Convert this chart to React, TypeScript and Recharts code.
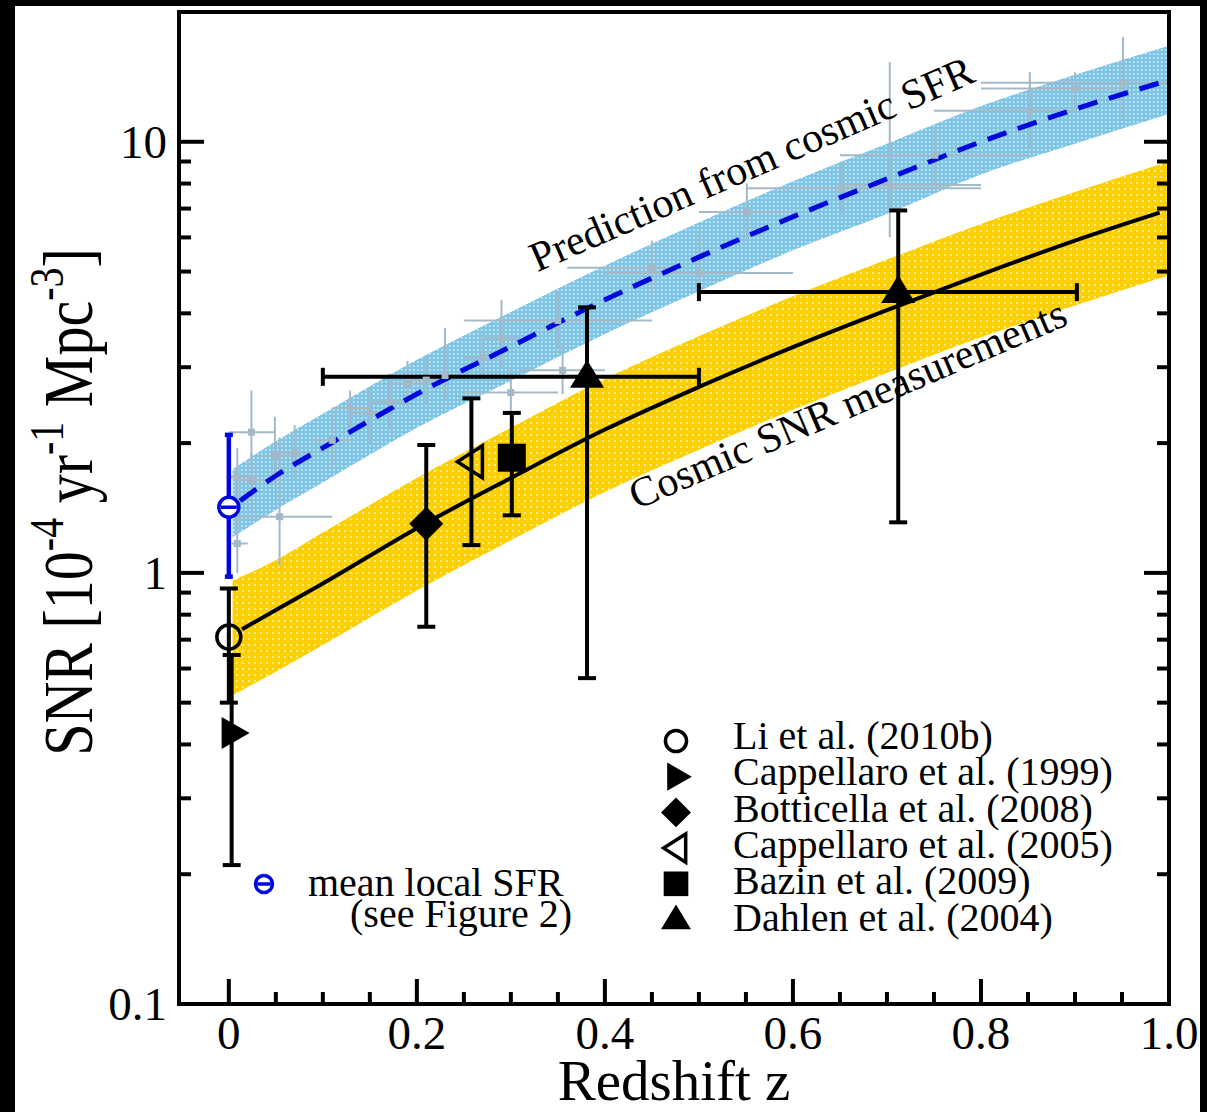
import React from 'react';
import { ComposedChart, XAxis, YAxis, Area, Line, Scatter, ErrorBar, ReferenceDot, Legend } from 'recharts';

const W = 1207;
const H = 1112;
const SERIF = "'Liberation Serif', 'Times New Roman', Times, serif";

// ---- axes ----
const X_DOMAIN: [number, number] = [-0.053, 1.0];
const Y_DOMAIN: [number, number] = [0.1, 20];
const xMajorTicks = [0, 0.2, 0.4, 0.6, 0.8, 1.0];
const xTickLabels = ['0', '0.2', '0.4', '0.6', '0.8', '1.0'];
const xMinorTicks = [0.05, 0.1, 0.15, 0.25, 0.3, 0.35, 0.45, 0.5, 0.55, 0.65, 0.7, 0.75, 0.85, 0.9, 0.95];
const yMajorTicks = [0.1, 1, 10];
const yTickLabels = ['0.1', '1', '10'];
const yMinorTicks = [0.2, 0.3, 0.4, 0.5, 0.6, 0.7, 0.8, 0.9, 2, 3, 4, 5, 6, 7, 8, 9];

// ---- model bands ----
const bandZ = [0.004, 0.05, 0.1, 0.2, 0.3, 0.4, 0.5, 0.6, 0.7, 0.8, 0.9, 1.0];
const sfrUpper = [1.74, 2.02, 2.34, 3.12, 4.03, 5.16, 6.5, 8.1, 9.9, 12.1, 14.3, 16.7];
const sfrLower = [1.21, 1.4, 1.62, 2.17, 2.79, 3.58, 4.5, 5.6, 6.8, 8.4, 9.9, 11.6];
const snrUpper = [0.96, 1.07, 1.24, 1.66, 2.17, 2.82, 3.54, 4.38, 5.33, 6.45, 7.65, 9.0];
const snrLower = [0.52, 0.59, 0.68, 0.91, 1.19, 1.54, 1.93, 2.39, 2.91, 3.52, 4.17, 4.9];

// ---- model lines ----
const sfrLineZ = [0.012, 0.05, 0.1, 0.2, 0.3, 0.4, 0.5, 0.6, 0.7, 0.8, 0.9, 1.0];
const sfrLineV = [1.47, 1.68, 1.95, 2.6, 3.35, 4.3, 5.4, 6.7, 8.2, 10.0, 11.9, 13.9];
const snrLineZ = [0.014, 0.05, 0.1, 0.2, 0.3, 0.4, 0.5, 0.6, 0.7, 0.8, 0.9, 0.99];
const snrLineV = [0.74, 0.82, 0.945, 1.27, 1.66, 2.15, 2.7, 3.34, 4.07, 4.92, 5.9, 6.85];

// ---- cosmic SFR data (faint) ----
const sfrObsZ = [0.009, 0.009, 0.024, 0.024, 0.049, 0.054, 0.07, 0.11, 0.129, 0.15, 0.171, 0.19, 0.21, 0.23, 0.27, 0.29, 0.3, 0.355, 0.35, 0.45, 0.5, 0.551, 0.652, 0.703, 0.751, 0.852, 0.951, 0.9];
const sfrObsZlo = [0.003, 0.0, 0.0, 0.012, 0.03, 0.012, 0.05, 0.09, 0.11, 0.13, 0.15, 0.17, 0.19, 0.2, 0.25, 0.27, 0.25, 0.31, 0.25, 0.36, 0.4, 0.5, 0.55, 0.65, 0.65, 0.75, 0.8, 0.8];
const sfrObsZhi = [0.02, 0.03, 0.05, 0.04, 0.07, 0.11, 0.09, 0.13, 0.15, 0.17, 0.19, 0.21, 0.23, 0.26, 0.29, 0.31, 0.35, 0.4, 0.45, 0.48, 0.6, 0.6, 0.8, 0.8, 0.85, 0.9, 1.0, 0.95];
const sfrObsY = [1.17, 1.67, 2.12, 1.64, 1.87, 1.35, 1.9, 2.03, 2.41, 2.35, 2.49, 2.75, 2.8, 2.87, 3.16, 3.5, 2.62, 2.95, 3.85, 5.1, 4.96, 6.87, 7.8, 7.94, 9.3, 11.8, 13.7, 13.3];
const sfrObsYlo = [1.0, 1.45, 1.75, 1.4, 1.6, 1.04, 1.65, 1.75, 2.1, 2.0, 2.15, 2.4, 2.45, 2.5, 2.8, 3.0, 2.3, 2.6, 3.3, 4.4, 4.3, 5.9, 6.8, 6.0, 8.0, 9.6, 11.2, 12.0];
const sfrObsYhi = [1.35, 1.95, 2.65, 1.9, 2.3, 2.06, 2.2, 2.35, 2.65, 2.7, 2.9, 3.1, 3.2, 3.7, 3.6, 4.3, 3.0, 3.4, 4.5, 5.9, 6.2, 8.0, 9.0, 15.3, 10.8, 14.5, 17.5, 14.5];

// ---- mean local SFR ----
const localZ = [0];
const localY = [1.42];
const localYlo = [0.98];
const localYhi = [2.09];

// ---- SNR measurements ----
const snrNames = ['Li et al. (2010b)', 'Cappellaro et al. (1999)', 'Botticella et al. (2008)', 'Cappellaro et al. (2005)', 'Bazin et al. (2009)', 'Dahlen et al. (2004)'];
const snrMarkers = ['circle', 'triRight', 'diamond', 'triLeftOpen', 'square', 'triUp'];
const snrSet = [0, 1, 2, 3, 4, 5, 5];
const snrZ = [0, 0.003, 0.21, 0.258, 0.301, 0.381, 0.712];
const snrZlo = [0, 0.003, 0.21, 0.258, 0.301, 0.1, 0.5];
const snrZhi = [0, 0.003, 0.21, 0.258, 0.301, 0.5, 0.902];
const snrY = [0.71, 0.425, 1.3, 1.81, 1.85, 2.85, 4.48];
const snrYlo = [0.5, 0.21, 0.75, 1.16, 1.36, 0.57, 1.31];
const snrYhi = [0.92, 0.645, 1.98, 2.54, 2.35, 4.13, 6.93];

// ---- annotations ----
const annText = ['Prediction from cosmic SFR', 'Cosmic SNR measurements'];
const annZ = [0.562, 0.664];
const annY = [8.3, 2.3];
const annAngle = [-23.5, -23.2];
const localLegendText = ['mean local SFR', '(see Figure 2)'];

// ---- derived tables ----
const sfrBandData = bandZ.map((z, i) => ({ z, band: [sfrLower[i], sfrUpper[i]] }));
const snrBandData = bandZ.map((z, i) => ({ z, band: [snrLower[i], snrUpper[i]] }));
const sfrLineData = sfrLineZ.map((z, i) => ({ z, v: sfrLineV[i] }));
const snrLineData = snrLineZ.map((z, i) => ({ z, v: snrLineV[i] }));
const sfrObsData = sfrObsZ.map((z, i) => ({
  z,
  y: sfrObsY[i],
  ex: [z - sfrObsZlo[i], sfrObsZhi[i] - z],
  ey: [sfrObsY[i] - sfrObsYlo[i], sfrObsYhi[i] - sfrObsY[i]],
}));
const localData = localZ.map((z, i) => ({ z, y: localY[i], ey: [localY[i] - localYlo[i], localYhi[i] - localY[i]] }));
const snrData = snrNames.map((_, s) =>
  snrZ
    .map((z, i) => ({
      set: snrSet[i],
      z,
      y: snrY[i],
      ex: [z - snrZlo[i], snrZhi[i] - z],
      ey: [snrY[i] - snrYlo[i], snrYhi[i] - snrY[i]],
    }))
    .filter((d) => d.set === s)
);

const BLACK = '#000';
const BLUE = '#0008dc';
const FAINT = '#a3b9c8';

function drawMarker(kind: string, cx: number, cy: number, s = 1) {
  switch (kind) {
    case 'circle':
      return <circle cx={cx} cy={cy} r={12 * s} fill="none" stroke={BLACK} strokeWidth={3.5} />;
    case 'triRight':
      return <path d={`M${cx - 10 * s},${cy - 16 * s} L${cx + 18 * s},${cy} L${cx - 10 * s},${cy + 16 * s} Z`} fill={BLACK} />;
    case 'diamond':
      return <path d={`M${cx},${cy - 17 * s} L${cx + 17 * s},${cy} L${cx},${cy + 17 * s} L${cx - 17 * s},${cy} Z`} fill={BLACK} />;
    case 'triLeftOpen':
      return (
        <path
          d={`M${cx + 11 * s},${cy - 16 * s} L${cx - 14 * s},${cy} L${cx + 11 * s},${cy + 16 * s} Z`}
          fill="none"
          stroke={BLACK}
          strokeWidth={3.5}
        />
      );
    case 'square':
      return <rect x={cx - 14 * s} y={cy - 14 * s} width={28 * s} height={28 * s} fill={BLACK} />;
    case 'triUp':
      return <path d={`M${cx},${cy - 17 * s} L${cx + 17 * s},${cy + 11 * s} L${cx - 17 * s},${cy + 11 * s} Z`} fill={BLACK} />;
    default:
      return null;
  }
}

function drawLocalMarker(cx: number, cy: number, s = 1) {
  return (
    <g>
      <circle cx={cx} cy={cy} r={10 * s} fill="#fff" stroke={BLUE} strokeWidth={3.5} />
      <line x1={cx - 8 * s} y1={cy} x2={cx + 8 * s} y2={cy} stroke={BLUE} strokeWidth={3.5} />
    </g>
  );
}

const isIn = (arr: number[], v: number) => arr.findIndex((t) => Math.abs(t - v) <= 1e-6 * Math.max(1, Math.abs(t)));

const BottomTick = (p: any) => {
  const { x, y, payload } = p;
  const mi = isIn(xMajorTicks, payload.value);
  const major = mi >= 0;
  return (
    <g>
      <line x1={x} y1={y} x2={x} y2={y - (major ? 25 : 12)} stroke={BLACK} strokeWidth={4} />
      {major && (
        <text x={x} y={y + 45} textAnchor="middle" fontSize={47} fontFamily={SERIF} fill={BLACK}>
          {xTickLabels[mi]}
        </text>
      )}
    </g>
  );
};
const TopTick = (p: any) => {
  const { x, y, payload } = p;
  const major = isIn(xMajorTicks, payload.value) >= 0;
  return <line x1={x} y1={y} x2={x} y2={y + (major ? 25 : 12)} stroke={BLACK} strokeWidth={4} />;
};
const LeftTick = (p: any) => {
  const { x, y, payload } = p;
  const mi = isIn(yMajorTicks, payload.value);
  const major = mi >= 0;
  return (
    <g>
      <line x1={x} y1={y} x2={x + (major ? 25 : 12)} y2={y} stroke={BLACK} strokeWidth={4} />
      {major && (
        <text x={x - 12} y={y + 16} textAnchor="end" fontSize={47} fontFamily={SERIF} fill={BLACK}>
          {yTickLabels[mi]}
        </text>
      )}
    </g>
  );
};
const RightTick = (p: any) => {
  const { x, y, payload } = p;
  const major = isIn(yMajorTicks, payload.value) >= 0;
  return <line x1={x} y1={y} x2={x - (major ? 25 : 12)} y2={y} stroke={BLACK} strokeWidth={4} />;
};

const YTitle = () => (
  <text transform="translate(92, 502) rotate(-90) scale(1, 1.22)" textAnchor="middle" fontSize={58} fontFamily={SERIF} fill={BLACK}>
    <tspan>SNR [10</tspan>
    <tspan dy={-24} fontSize={40}>-4</tspan>
    <tspan dy={24}> yr</tspan>
    <tspan dy={-24} fontSize={40}>-1</tspan>
    <tspan dy={24}> Mpc</tspan>
    <tspan dy={-24} fontSize={40}>-3</tspan>
    <tspan dy={24}>]</tspan>
  </text>
);

const XTitle = (p: any) => {
  const vb = p.viewBox || { x: 179, width: 990, y: 1004 };
  return (
    <text x={vb.x + vb.width / 2} y={1100} textAnchor="middle" fontSize={57} fontFamily={SERIF} fill={BLACK}>
      Redshift z
    </text>
  );
};

const RotText = (p: any) => {
  const vb = p.viewBox || { x: 0, y: 0, width: 0, height: 0 };
  const cx = vb.x + (vb.width || 0) / 2;
  const cy = vb.y + (vb.height || 0) / 2;
  return (
    <text x={cx} y={cy} transform={`rotate(${p.rotDeg}, ${cx}, ${cy})`} textAnchor="middle" fontSize={42} fontFamily={SERIF} fill={BLACK}>
      {p.caption}
    </text>
  );
};

const LegendContent = () => (
  <svg width={W} height={H} style={{ position: 'absolute', left: 0, top: 0 }}>
    {snrNames.map((n, i) => (
      <g key={n}>
        {drawMarker(snrMarkers[i], 676, 741 + i * 35.7, 0.88)}
        <text x={733} y={749 + i * 36.3} fontSize={40} fontFamily={SERIF} fill={BLACK}>
          {n}
        </text>
      </g>
    ))}
    {drawLocalMarker(264, 884, 0.85)}
    <text x={308} y={896} fontSize={40} fontFamily={SERIF} fill={BLACK}>
      {localLegendText[0]}
    </text>
    <text x={350} y={927} fontSize={40} fontFamily={SERIF} fill={BLACK}>
      {localLegendText[1]}
    </text>
  </svg>
);

const axisLine = { stroke: BLACK, strokeWidth: 4, strokeLinecap: 'square' as const };
const allXTicks = [...xMajorTicks, ...xMinorTicks].sort((a, b) => a - b);
const allYTicks = [...yMajorTicks, ...yMinorTicks].sort((a, b) => a - b);

export default function App() {
  return (
    <div style={{ position: 'absolute', left: 0, top: 0, width: W, height: H, background: '#000', overflow: 'hidden' }}>
      <div style={{ position: 'absolute', left: 15, top: 6, width: 1185, height: 1106, background: '#fff' }} />
      <div style={{ position: 'absolute', left: 0, top: 0 }}>
        <ComposedChart width={W} height={H} margin={{ top: 0, right: 0, bottom: 0, left: 0 }}>
          <defs>
            <pattern id="yelPat" width="6" height="6" patternUnits="userSpaceOnUse">
              <rect width="6" height="6" fill="#FCD000" />
              <circle cx="3" cy="3" r="1.1" fill="#fff" fillOpacity="0.7" />
            </pattern>
            <pattern id="bluPat" width="4" height="4" patternUnits="userSpaceOnUse">
              <rect width="4" height="4" fill="#80c4e4" />
              <rect x="1" y="1" width="1.6" height="2" fill="#fff" fillOpacity="0.55" />
            </pattern>
          </defs>
          <XAxis
            xAxisId={0}
            dataKey="z"
            type="number"
            domain={X_DOMAIN}
            allowDataOverflow
            orientation="bottom"
            height={108}
            ticks={allXTicks}
            interval={0}
            tickSize={0}
            tickMargin={0}
            tickLine={false}
            tick={<BottomTick />}
            axisLine={axisLine}
            label={<XTitle />}
          />
          <XAxis
            xAxisId="top"
            type="number"
            domain={X_DOMAIN}
            allowDataOverflow
            orientation="top"
            height={12}
            ticks={allXTicks}
            interval={0}
            tickSize={0}
            tickMargin={0}
            tickLine={false}
            tick={<TopTick />}
            axisLine={axisLine}
          />
          <YAxis
            yAxisId={0}
            dataKey="y"
            type="number"
            scale="log"
            domain={Y_DOMAIN}
            allowDataOverflow
            orientation="left"
            width={179}
            ticks={allYTicks}
            interval={0}
            tickSize={0}
            tickMargin={0}
            tickLine={false}
            tick={<LeftTick />}
            axisLine={axisLine}
            label={<YTitle />}
          />
          <YAxis
            yAxisId="right"
            type="number"
            scale="log"
            domain={Y_DOMAIN}
            allowDataOverflow
            orientation="right"
            width={38}
            ticks={allYTicks}
            interval={0}
            tickSize={0}
            tickMargin={0}
            tickLine={false}
            tick={<RightTick />}
            axisLine={axisLine}
          />

          <Area data={sfrBandData} dataKey="band" type="monotone" stroke="none" fill="url(#bluPat)" fillOpacity={1} isAnimationActive={false} />
          <Area data={snrBandData} dataKey="band" type="monotone" stroke="none" fill="url(#yelPat)" fillOpacity={1} isAnimationActive={false} />

          <Scatter data={sfrObsData} dataKey="y" fill={FAINT} isAnimationActive={false}
            shape={(p: any) => <rect x={p.cx - 3.5} y={p.cy - 3.5} width={7} height={7} fill={FAINT} />}>
            <ErrorBar dataKey="ex" direction="x" width={0} stroke={FAINT} strokeWidth={2} />
            <ErrorBar dataKey="ey" direction="y" width={0} stroke={FAINT} strokeWidth={2} />
          </Scatter>

          <Line data={sfrLineData} dataKey="v" type="monotone" stroke={BLUE} strokeWidth={5} strokeDasharray="20 12" dot={false} activeDot={false} isAnimationActive={false} />
          <Line data={snrLineData} dataKey="v" type="monotone" stroke={BLACK} strokeWidth={4} dot={false} activeDot={false} isAnimationActive={false} />

          <Scatter data={localData} dataKey="y" fill={BLUE} isAnimationActive={false} shape={(p: any) => drawLocalMarker(p.cx, p.cy)}>
            <ErrorBar dataKey="ey" direction="y" width={4} stroke={BLUE} strokeWidth={4.5} />
          </Scatter>

          {snrData.map((d, s) => (
            <Scatter
              key={snrNames[s]}
              name={snrNames[s]}
              data={d}
              dataKey="y"
              fill={BLACK}
              isAnimationActive={false}
              shape={(p: any) => drawMarker(snrMarkers[s], p.cx, p.cy)}
            >
              {snrMarkers[s] === 'triUp' && <ErrorBar dataKey="ex" direction="x" width={9} stroke={BLACK} strokeWidth={4} />}
              <ErrorBar dataKey="ey" direction="y" width={9} stroke={BLACK} strokeWidth={4} />
            </Scatter>
          ))}

          {annText.map((t, i) => (
            <ReferenceDot
              key={t}
              x={annZ[i]}
              y={annY[i]}
              r={0}
              fill="none"
              stroke="none"
              label={<RotText caption={t} rotDeg={annAngle[i]} />}
            />
          ))}

          <Legend
            layout="vertical"
            align="center"
            verticalAlign="middle"
            content={<LegendContent />}
            wrapperStyle={{ left: 0, top: 0, width: W, height: H, pointerEvents: 'none' }}
          />
        </ComposedChart>
      </div>
    </div>
  );
}
